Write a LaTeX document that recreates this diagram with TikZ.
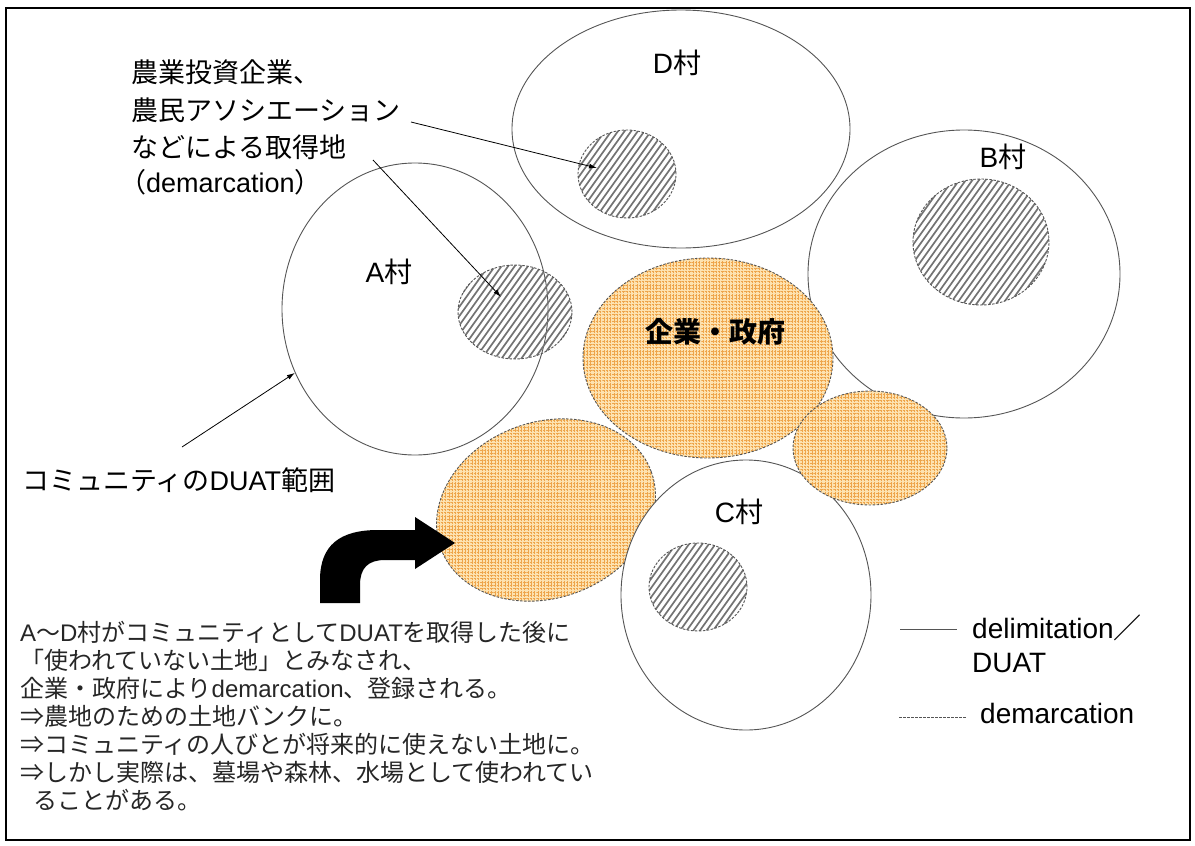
\documentclass[tikz,border=0pt]{standalone}
\usepackage{fontspec}
\setmainfont{Liberation Sans}
\newfontfamily\jp{Noto Sans CJK JP}
\usetikzlibrary{shapes.geometric,patterns.meta,arrows.meta}

\definecolor{orgBg}{RGB}{253,226,176}
\definecolor{orgLine}{RGB}{238,165,75}
\definecolor{rim}{RGB}{85,85,85}

\tikzset{
  village/.style = {ellipse, draw=rim, line width=0.9pt, inner sep=0pt},
  plot/.style = {ellipse, draw=rim, line width=0.9pt, dash pattern=on 2.5pt off 1.5pt, inner sep=0pt,
    path picture={
      \foreach \k in {-24,...,24}
        \draw[black!55, line width=1.7pt, solid]
          ([xshift=\k*6.6pt]path picture bounding box.center) ++(-90pt,-126pt) -- ++(180pt,252pt);
    }},
  govland/.style = {ellipse, draw=rim, line width=0.9pt, dash pattern=on 2.5pt off 1.5pt, inner sep=0pt,
    preaction={fill=orgBg},
    preaction={pattern={Lines[angle=90,distance=3.3pt,line width=0.6pt]}, pattern color=orgLine},
    pattern={Lines[angle=0,distance=3.3pt,line width=0.6pt]}, pattern color=orgLine},
  pointer/.style = {draw=black, line width=0.8pt, -{Latex[length=8pt,width=5pt]}},
  tag/.style = {font=\fontsize{28}{34}\selectfont, inner sep=0pt},
  topnote/.style = {font=\fontsize{27}{37}\selectfont, anchor=base west, inner sep=0pt},
  note/.style = {font=\fontsize{24}{28}\selectfont, anchor=base west, inner sep=0pt, text=black!85},
}

\begin{document}
\begin{tikzpicture}[x=1pt, y=-1pt]
  \useasboundingbox (0,0) rectangle (1195,846);
  \draw[line width=1.6pt] (6,8) rectangle (1190,840);

  % villages
  \node[village, minimum width=338, minimum height=238] (villD) at (681,129) {};
  \node[village, minimum width=266, minimum height=292] (villA) at (415,309) {};
  \node[village, minimum width=312, minimum height=288] (villB) at (964,274) {};

  % land acquired inside the villages
  \node[plot, minimum width=98, minimum height=88] (plotD) at (627,174) {};
  \node[plot, minimum width=114, minimum height=94] (plotA) at (515,312) {};
  \node[plot, minimum width=136, minimum height=126] (plotB) at (981,242) {};

  % company / government land
  \node[govland, minimum width=250, minimum height=200] (gov) at (708,358) {};
  \node[govland, minimum width=224, minimum height=176, rotate=20] (govW) at (546,510) {};

  \node[village, fill=white, minimum width=250, minimum height=270] (villC) at (746,595) {};
  \node[plot, minimum width=98, minimum height=88] (plotC) at (698,587) {};
  \node[govland, minimum width=154, minimum height=114] (govE) at (870,448) {};

  \node[tag] (labD) at (677,63) {D{\jp 村}};
  \node[tag] (labA) at (389,272) {A{\jp 村}};
  \node[tag] (labB) at (1003,157) {B{\jp 村}};
  \node[tag] (labC) at (739,512) {C{\jp 村}};
  \node[tag, font=\fontsize{28}{34}\selectfont\jp\bfseries] (labGov) at (715,332) {企業・政府};

  % big arrow
  \fill (320,603) -- (320,580) .. controls (320,545) and (340,530) .. (378,530) -- (415,530)
    -- (415,517) -- (455,543) -- (415,569) -- (415,560) -- (385,560)
    .. controls (368,560) and (360,568) .. (360,585) -- (360,603) -- cycle;

  \node[topnote] (top1) at (131,82) {\jp 農業投資企業、};
  \node[topnote] (top2) at (131,120) {\jp 農民アソシエーション};
  \node[topnote] (top3) at (131,157) {\jp などによる取得地};
  \node[topnote] (top4) at (119,192) {{\jp （}demarcation{\jp ）}};

  \coordinate (tailD) at (411,122);
  \coordinate (tipD) at (597,168);
  \draw[pointer] (tailD) -- (tipD);
  \coordinate (tailA) at (373,160);
  \coordinate (tipA) at (501,297);
  \draw[pointer] (tailA) -- (tipA);

  \node[topnote] (duat) at (22,490) {{\jp コミュニティの}DUAT{\jp 範囲}};
  \coordinate (tailDuat) at (182,447);
  \draw[pointer] (tailDuat) -- (villA.208);

  \node[note] (note1) at (20,641) {A{\jp ～}D{\jp 村がコミュニティとして}DUAT{\jp を取得した後に}};
  \node[note] (note2) at (20,669) {\jp 「使われていない土地」とみなされ、};
  \node[note] (note3) at (20,697) {{\jp 企業・政府により}demarcation{\jp 、登録される。}};
  \node[note] (note4) at (20,725) {\jp ⇒農地のための土地バンクに。};
  \node[note] (note5) at (20,753) {\jp ⇒コミュニティの人びとが将来的に使えない土地に。};
  \node[note] (note6) at (20,781) {\jp ⇒しかし実際は、墓場や森林、水場として使われてい};
  \node[note] (note7) at (33,809) {\jp ることがある。};

  % legend
  \coordinate (solidL) at (900,629);
  \coordinate (solidR) at (957,629);
  \draw[rim, line width=0.9pt] (solidL) -- (solidR);
  \node[tag, anchor=base west] (keyDelim) at (972,638) {delimitation{\jp ／}};
  \node[tag, anchor=base west] (keyDuat) at (972,672) {DUAT};
  \coordinate (dashL) at (899,717);
  \coordinate (dashR) at (967,717);
  \draw[rim, line width=1pt, dash pattern=on 2.5pt off 1.5pt] (dashL) -- (dashR);
  \node[tag, anchor=base west] (keyDemarc) at (980,723) {demarcation};
\end{tikzpicture}
\end{document}
